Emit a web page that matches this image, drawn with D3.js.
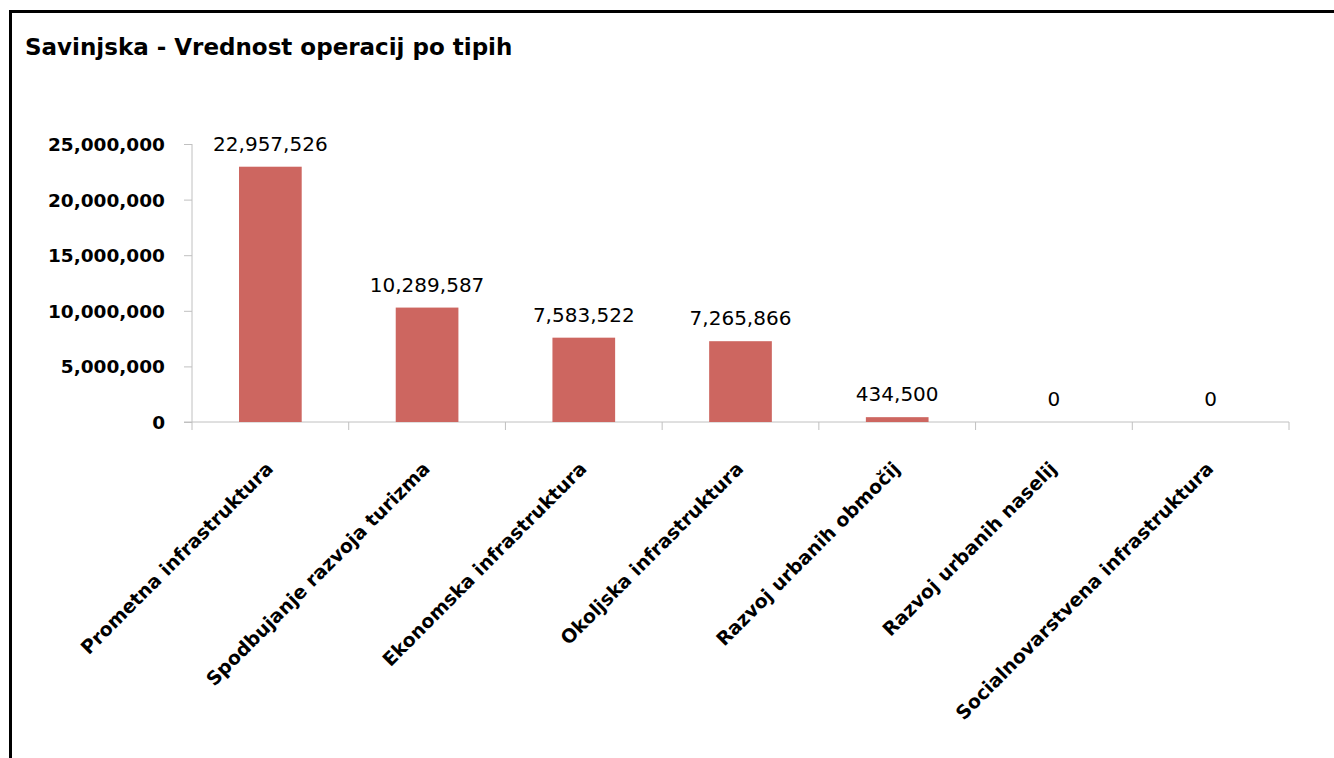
<!DOCTYPE html>
<html>
<head>
<meta charset="utf-8">
<script src="https://d3js.org/d3.v7.min.js"></script>
<style>
  body { margin: 0; background: #fff; }
  text { font-family: "DejaVu Sans", sans-serif; fill: #000; }
</style>
</head>
<body>
<div id="chart"></div>
<script>
// chart data
var title = "Savinjska - Vrednost operacij po tipih";
var categories = [
  "Prometna infrastruktura",
  "Spodbujanje razvoja turizma",
  "Ekonomska infrastruktura",
  "Okoljska infrastruktura",
  "Razvoj urbanih območij",
  "Razvoj urbanih naselij",
  "Socialnovarstvena infrastruktura"
];
var values = [22957526, 10289587, 7583522, 7265866, 434500, 0, 0];
var yTicks = [0, 5000000, 10000000, 15000000, 20000000, 25000000];

var W = 1334, H = 758;
var margin = { top: 144, right: 45, bottom: 336, left: 192 },
    width = W - margin.left - margin.right,
    height = H - margin.top - margin.bottom;

var svg = d3.select("#chart").append("svg")
  .attr("width", W)
  .attr("height", H);

// frame (left + top edges only)
svg.append("path")
  .attr("d", "M10.5," + H + "V11.5H" + W)
  .attr("fill", "none")
  .attr("stroke", "#000")
  .attr("stroke-width", 3);

svg.append("text")
  .attr("x", 25)
  .attr("y", 55)
  .attr("font-weight", 700)
  .style("font-size", "23px")
  .text(title);

var g = svg.append("g")
  .attr("transform", "translate(" + margin.left + "," + margin.top + ")");

var x = d3.scaleBand()
  .domain(categories)
  .range([0, width])
  .paddingInner(0.6)
  .paddingOuter(0.3);

var y = d3.scaleLinear()
  .domain([0, 25000000])
  .range([height, 0]);

var fmt = d3.format(",");

// y axis
var yAxis = g.append("g")
  .call(d3.axisLeft(y).tickValues(yTicks).tickFormat(fmt).tickSize(8).tickPadding(19));
yAxis.select(".domain").attr("stroke", "#c0c0c0").attr("d", "M0,0V" + height);
yAxis.selectAll(".tick line").attr("stroke", "#c0c0c0");
yAxis.selectAll(".tick text")
  .attr("font-family", "DejaVu Sans")
  .attr("font-weight", 700)
  .style("font-size", "18.5px")
  .attr("dy", "0.35em");

// x axis: ticks at category boundaries
var step = x.step();
var xAxis = g.append("g").attr("transform", "translate(0," + height + ")");
xAxis.append("line")
  .attr("x1", -8).attr("x2", width)
  .attr("stroke", "#c0c0c0");
xAxis.selectAll("line.tk")
  .data(d3.range(categories.length + 1))
  .enter().append("line")
  .attr("class", "tk")
  .attr("x1", d => d * step)
  .attr("x2", d => d * step)
  .attr("y1", 0).attr("y2", 8)
  .attr("stroke", "#c0c0c0");

// bars
g.selectAll("rect.bar")
  .data(values)
  .enter().append("rect")
  .attr("class", "bar")
  .attr("x", (d, i) => x(categories[i]))
  .attr("y", d => y(d))
  .attr("width", x.bandwidth())
  .attr("height", d => height - y(d))
  .attr("fill", "#cd6660");

// value labels
g.selectAll("text.val")
  .data(values)
  .enter().append("text")
  .attr("class", "val")
  .attr("x", (d, i) => x(categories[i]) + x.bandwidth() / 2)
  .attr("y", d => y(d) - 16)
  .attr("text-anchor", "middle")
  .style("font-size", "20px")
  .text(d => fmt(d));

// rotated category labels
g.selectAll("text.cat")
  .data(categories)
  .enter().append("text")
  .attr("class", "cat")
  .attr("transform", d => "translate(" + (x(d) + x.bandwidth() / 2 + 4) + "," + (height + 48) + ") rotate(-45)")
  .attr("text-anchor", "end")
  .attr("font-weight", 700)
  .style("font-size", "19px")
  .text(d => d);
</script>
</body>
</html>
